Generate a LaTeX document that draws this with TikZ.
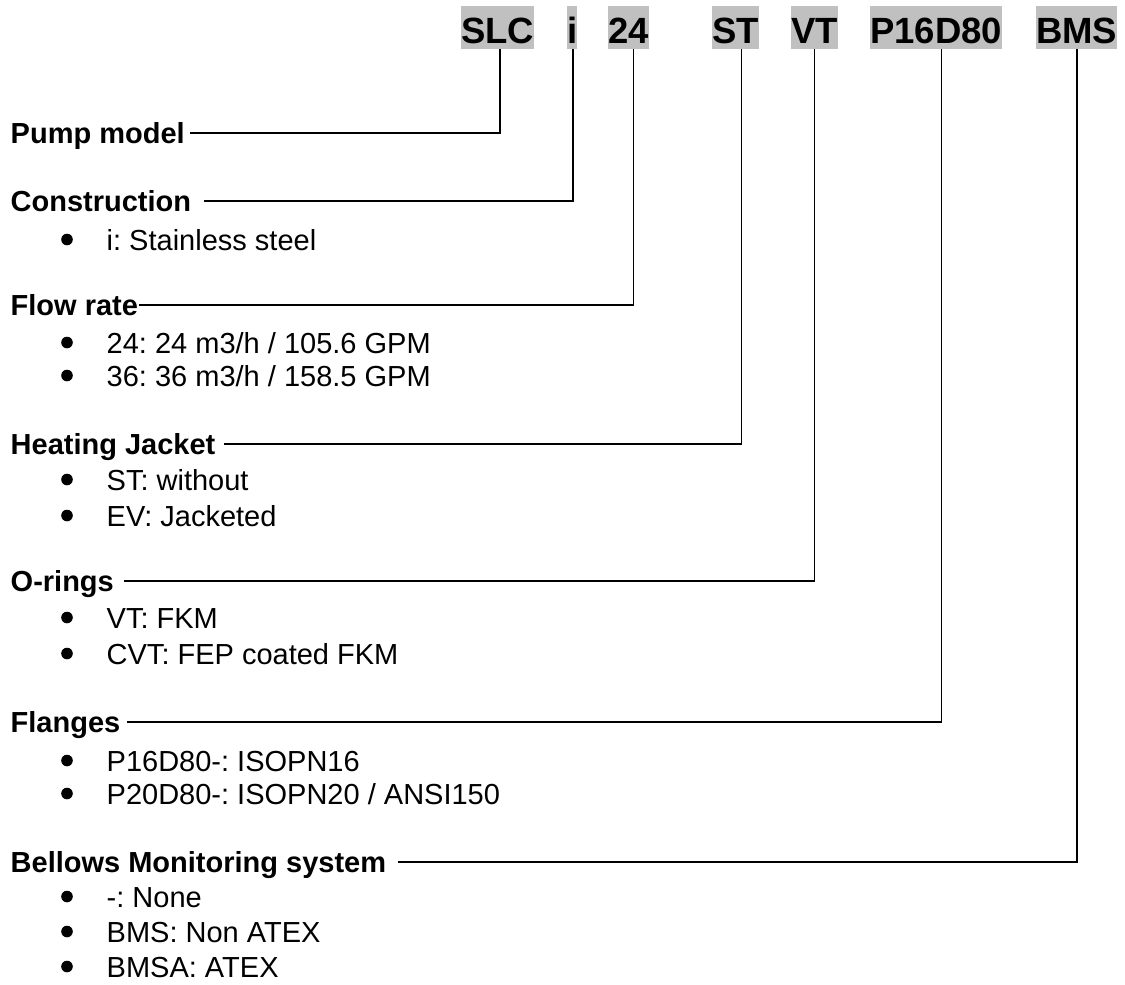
\documentclass[tikz,border=0pt]{standalone}
\usepackage{fontspec}
\setmainfont{Liberation Sans}
\frenchspacing
\definecolor{hilite}{RGB}{192,192,192}

\begin{document}
\begin{tikzpicture}[x=1pt,y=-1pt,
        code/.style={fill=hilite,inner sep=0pt,anchor=base west,text height=37pt,text depth=6pt,
            font=\fontsize{36.5}{40}\selectfont\bfseries},
        title/.style={inner sep=0pt,anchor=base west,text height=21pt,text depth=0pt,
            font=\fontsize{29}{34}\selectfont\bfseries},
        item/.style={inner sep=0pt,anchor=base west,text height=21pt,text depth=0pt,
            font=\fontsize{29}{34}\selectfont},
        link/.style={line width=1.6pt}]
    \useasboundingbox (0,0) rectangle (1125,985);

    % code letters
    \node[code] (slc) at (461,43) {SLC};
    \node[code] (ii) at (567,43) {i};
    \node[code] (c24) at (608,43) {24};
    \node[code] (st) at (712,43) {ST};
    \node[code] (vt) at (791,43) {VT};
    \node[code] (pd) at (870,43) {P16D80};
    \node[code] (bms) at (1036,43) {BMS};

    % headings
    \node[title] (pump) at (10.5,143.5) {Pump model};
    \node[title] (constr) at (10.5,211.5) {Construction};
    \node[title] (flow) at (10.5,315.5) {Flow rate};
    \node[title] (heat) at (10.5,454.5) {Heating Jacket};
    \node[title] (oring) at (10.5,591.5) {O-rings};
    \node[title] (flange) at (10.5,732.5) {Flanges};
    \node[title] (bellows) at (10.5,872.5) {Bellows Monitoring system};

    % options
    \foreach \y/\t [count=\i] in {250/{i: Stainless steel},
            353/{24: 24 m3/h / 105.6 GPM}, 386/{36: 36 m3/h / 158.5 GPM},
            490/{ST: without}, 526/{EV: Jacketed},
            628/{VT: FKM}, 664/{CVT: FEP coated FKM},
            771/{P16D80-: ISOPN16}, 804/{P20D80-: ISOPN20 / ANSI150},
            907/{-: None}, 942/{BMS: Non ATEX}, 977/{BMSA: ATEX}} {
        \node[item] (opt\i) at (106.5,\y) {\t};
        \fill ([xshift=-39.5pt]opt\i.west) circle (5.8pt);
    }

    \draw[link] ([xshift=2pt]slc.south) |- ([xshift=5pt]pump.east);
    \draw[link] ([xshift=1pt]ii.south) |- ([xshift=13pt]constr.east);
    \draw[link] ([xshift=5pt]c24.south) |- ([xshift=1pt]flow.east);
    \draw[link] ([xshift=6pt]st.south) |- ([xshift=8pt]heat.east);
    \draw[link] (vt.south) |- ([xshift=10pt]oring.east);
    \draw[link] ([xshift=5.5pt]pd.south) |- ([xshift=7pt]flange.east);
    \draw[link] ([xshift=0.5pt]bms.south) |- ([xshift=12pt]bellows.east);
\end{tikzpicture}
\end{document}
